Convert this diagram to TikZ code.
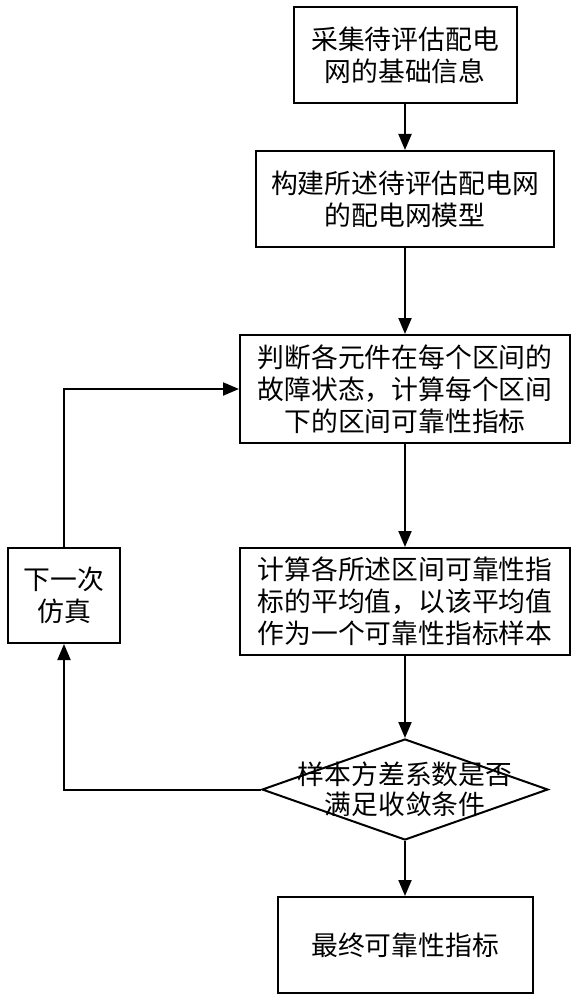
\documentclass[tikz,border=0pt]{standalone}
\usepackage{fontspec}
\newfontfamily\cjk{Noto Sans CJK SC}
\usetikzlibrary{arrows.meta,shapes.geometric}
\begin{document}
\begin{tikzpicture}[x=1pt,y=-1pt,
  box/.style={draw,line width=2pt,rectangle,inner sep=0pt,align=center,font=\cjk\fontsize{26.8}{32}\selectfont},
  txt/.style={inner sep=0pt,align=center,font=\cjk\fontsize{26.8}{30}\selectfont},
  arr/.style={line width=2pt,-{Triangle[length=16pt,width=13pt]}},
  ln/.style={line width=2pt}]
\useasboundingbox (0,0) rectangle (577,1000);
\node[box,minimum width=223pt,minimum height=96pt] (b1) at (405,55) {采集待评估配电\\网的基础信息};
\node[box,minimum width=298pt,minimum height=96pt] (b2) at (405,199) {构建所述待评估配电网\\的配电网模型};
\node[box,minimum width=330pt,minimum height=108pt] (b3) at (405,389) {判断各元件在每个区间的\\故障状态，计算每个区间\\下的区间可靠性指标};
\node[box,minimum width=330pt,minimum height=107pt] (b4) at (405,601.5) {计算各所述区间可靠性指\\标的平均值，以该平均值\\作为一个可靠性指标样本};
\node[draw,line width=2pt,diamond,inner sep=0pt,minimum width=286pt,minimum height=101pt] (d) at (405,789.5) {};
\node[txt] (dt) at (d.center) {样本方差系数是否\\满足收敛条件};
\node[box,minimum width=255pt,minimum height=96pt] (b5) at (405,945) {最终可靠性指标};
\node[box,minimum width=112pt,minimum height=95pt] (lb) at (64,595.5) {下一次\\仿真};
\draw[arr] (b1.south) -- (b2.north);
\draw[arr] (b2.south) -- (b3.north);
\draw[arr] (b3.south) -- (b4.north);
\draw[arr] (b4.south) -- (d.north);
\draw[arr] (d.south) -- (b5.north);
\draw[arr] (d.west) -| (lb.south);
\draw[arr] (lb.north) |- (b3.west);
\end{tikzpicture}
\end{document}
